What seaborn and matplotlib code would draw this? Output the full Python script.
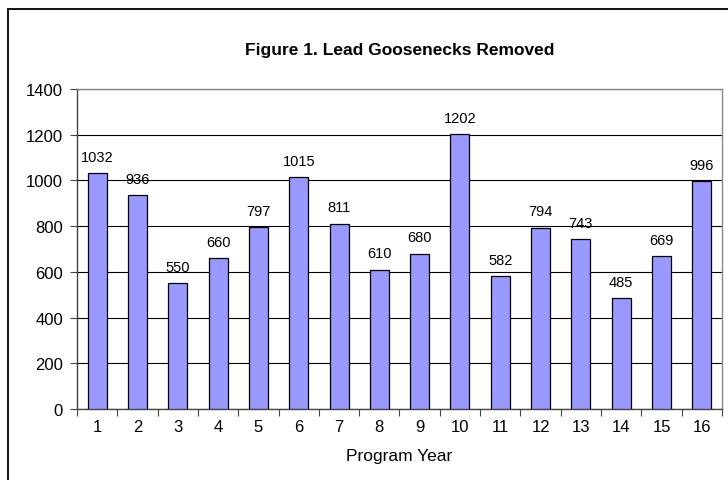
import matplotlib
matplotlib.use("Agg")
import matplotlib.pyplot as plt
import seaborn as sns
import pandas as pd
import numpy as np
from matplotlib.patches import Rectangle

years = [str(i) for i in range(1, 17)]
removed = [1032, 936, 550, 660, 797, 1015, 811, 610, 680, 1202, 582, 794, 743, 485, 669, 996]
y_ticks = [0, 200, 400, 600, 800, 1000, 1200, 1400]

sns.set_theme(style="white")
plt.rcParams['font.family'] = ['Liberation Sans', 'DejaVu Sans']
plt.rcParams['text.color'] = 'black'
plt.rcParams['xtick.color'] = 'black'
plt.rcParams['ytick.color'] = 'black'
plt.rcParams['axes.labelcolor'] = 'black'

df = pd.DataFrame({"Program Year": years, "Removed": removed})

fig = plt.figure(figsize=(7.28, 4.81), dpi=100)
fig.patch.set_facecolor("white")
# chart area border
fig.add_artist(Rectangle((8/728, -0.1), 1.2, 1 - 10/481 + 0.1, transform=fig.transFigure,
                         fill=False, edgecolor="black", linewidth=1.3))

ax = fig.add_axes([77/728, 1 - 410/481, (722 - 77)/728, 320/481])
sns.barplot(data=df, x="Program Year", y="Removed", ax=ax, color="#9999FF",
            saturation=1, width=0.47, edgecolor="black", linewidth=0.9, zorder=3)

ax.set_ylim(0, 1400)
ax.set_xlim(-0.5, 15.5)
ax.set_yticks(y_ticks)
ax.yaxis.grid(True, color="black", linewidth=0.8, zorder=0)
ax.set_axisbelow(True)
for s in ["left", "bottom"]:
    ax.spines[s].set_color("#444444")
    ax.spines[s].set_linewidth(1.0)
for s in ["top", "right"]:
    ax.spines[s].set_color("#888888")
    ax.spines[s].set_linewidth(1.0)

ax.tick_params(axis="y", which="major", length=5, width=0.8, color="#444444",
               labelsize=12, pad=5, left=True)
ax.tick_params(axis="x", which="major", length=0, labelsize=12, pad=7)
ax.set_xticks(np.arange(-0.5, 16, 1), minor=True)
ax.tick_params(axis="x", which="minor", length=5, width=0.8, color="#444444", bottom=True)

for i, v in enumerate(removed):
    ax.text(i, v + 40, str(v), ha="center", va="bottom", fontsize=10.5, color="black")

ax.set_xlabel("Program Year", fontsize=12.5, labelpad=10)
ax.set_ylabel("")
fig.text((77 + 722) / 2 / 728, 1 - 50/481, "Figure 1. Lead Goosenecks Removed",
         ha="center", va="center", fontsize=12.5, fontweight="bold")

fig.savefig("out.png", dpi=100)
